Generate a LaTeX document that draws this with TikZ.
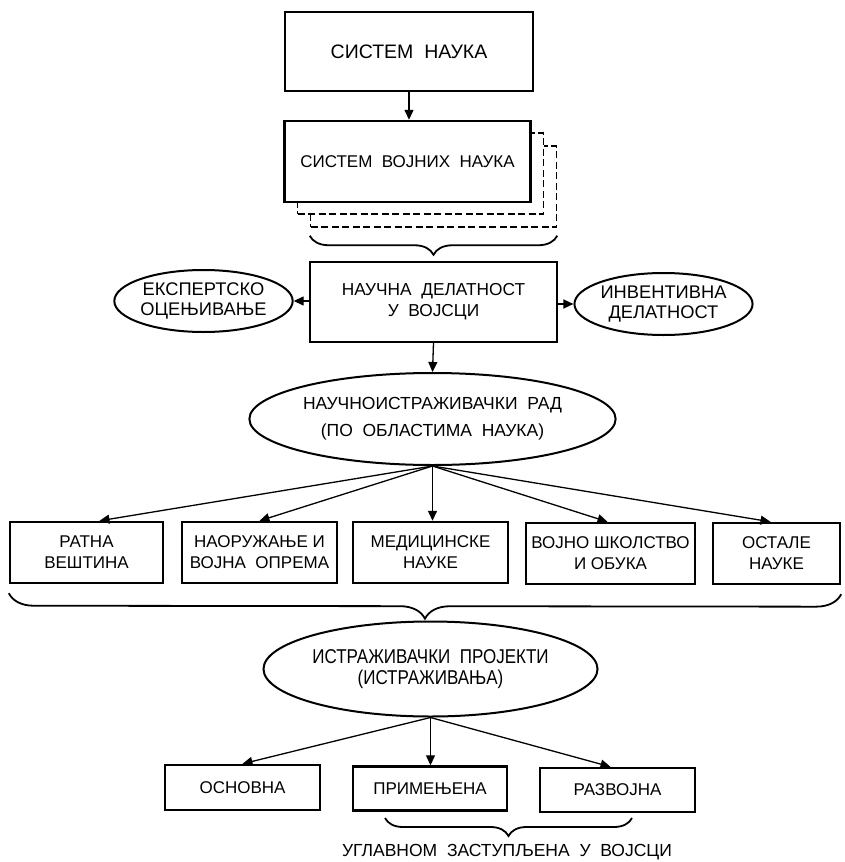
\documentclass[tikz,border=0pt]{standalone}
\usepackage{fontspec}
\setmainfont{Liberation Sans}
\newfontfamily\narrowfont[FakeStretch=0.85]{Liberation Sans}
\usetikzlibrary{arrows.meta,shapes.geometric,decorations.pathreplacing}
\tikzset{
  boxnode/.style={draw, line width=2.4pt, fill=white, inner sep=0pt, align=center,
    font=\fontsize{17}{21}\selectfont},
  ellnode/.style={draw, ellipse, line width=2pt, fill=white, inner sep=0pt, align=center,
    font=\fontsize{18.3}{20}\selectfont},
  arr/.style={line width=1.3pt, -{Triangle[length=10pt,width=9pt]}},
  dbox/.style={draw, dash pattern=on 7pt off 3.5pt, line width=1.5pt, fill=white, inner sep=0pt},
  bracestyle/.style={decorate, decoration={brace, mirror, amplitude=#1}, line width=1.8pt},
  bracestyle/.default=20,
}
\begin{document}
\begin{tikzpicture}[x=1pt,y=-1pt]
\useasboundingbox (0,0) rectangle (844,862);
\fill[white] (0,0) rectangle (844,862);

% top
\node[boxnode, minimum width=248, minimum height=79, font=\fontsize{19.5}{22}\selectfont] (sn) at (409,51.5) {СИСТЕМ~~НАУКА};
\node[dbox, minimum width=246, minimum height=81] (svnb) at (433.5,186.5) {};
\node[dbox, minimum width=246, minimum height=81] (svnm) at (420.5,173.5) {};
\node[boxnode, minimum width=246, minimum height=81] (svn) at (407.5,161.5) {СИСТЕМ~~ВОЈНИХ~~НАУКА};
\draw[arr] (sn.south) -- (sn.south |- svn.north);
\draw[bracestyle=19] ([yshift=-8pt]svnb.south west) -- ([yshift=-8pt]svnb.south east);

% middle
\node[boxnode, minimum width=247, minimum height=80, font=\fontsize{17.3}{21}\selectfont] (nd) at (433.5,302) {НАУЧНА~~ДЕЛАТНОСТ\\У~~ВОЈСЦИ};
\node[ellnode, minimum width=157, minimum height=62] (ek) at (203.5,301) {ЕКСПЕРТСКО\\ОЦЕЊИВАЊЕ};
\node[ellnode, minimum width=157, minimum height=62] (id) at (663.5,304) {ИНВЕНТИВНА\\ДЕЛАТНОСТ};
\draw[arr] (nd.west |- ek.east) -- (ek.east);
\draw[arr] (nd.east |- id.west) -- (id.west);

\node[ellnode, minimum width=321, minimum height=92, font=\fontsize{17.5}{27}\selectfont] (nir) at (432.5,419) {НАУЧНОИСТРАЖИВАЧКИ~~РАД\\(ПО~~ОБЛАСТИМА~~НАУКА)};
\draw[arr] (nd.south) -- (nir.north);

% five boxes
\node[boxnode, minimum width=153, minimum height=61] (rv) at (86.5,552.5) {РАТНА\\ВЕШТИНА};
\node[boxnode, minimum width=155, minimum height=61] (nvo) at (259.5,552.5) {НАОРУЖАЊЕ~И\\ВОЈНА~~ОПРЕМА};
\node[boxnode, minimum width=155, minimum height=61] (mn) at (430.5,552.5) {МЕДИЦИНСКЕ\\НАУКЕ};
\node[boxnode, minimum width=169, minimum height=61] (vso) at (610.5,553.5) {ВОЈНО ШКОЛСТВО\\И ОБУКА};
\node[boxnode, minimum width=127, minimum height=61] (on) at (776.5,553.5) {ОСТАЛЕ\\НАУКЕ};

\draw[arr] (nir.south) -- ([xshift=13pt]rv.north);
\draw[arr] (nir.south) -- (nvo.north);
\draw[arr] (nir.south) -- (nir.south |- mn.north);
\draw[arr] (nir.south) -- ([xshift=-3pt]vso.north);
\draw[arr] (nir.south) -- ([xshift=-6pt]on.north);

\draw[bracestyle=25] ([yshift=-9pt]rv.south west) -- ([yshift=-9pt]on.south east);

% projects
\node[ellnode, minimum width=325, minimum height=95, font=\narrowfont\fontsize{20}{21}\selectfont] (ip) at (430.5,669) {ИСТРАЖИВАЧКИ~~ПРОЈЕКТИ\\(ИСТРАЖИВАЊА)};

\node[boxnode, minimum width=155, minimum height=45] (os) at (242.5,787.5) {ОСНОВНА};
\node[boxnode, minimum width=154, minimum height=44] (pr) at (430,788.5) {ПРИМЕЊЕНА};
\node[boxnode, minimum width=155, minimum height=44] (rz) at (617.5,790) {РАЗВОЈНА};

\draw[arr] (ip.south) -- (os.north);
\draw[arr] (ip.south) -- (ip.south |- pr.north);
\draw[arr] (ip.south) -- ([xshift=-7pt]rz.north);

\coordinate (b2l) at (385,818);
\coordinate (b2r) at (632,818);
\draw[bracestyle=18] (b2l) -- (b2r);
\node[font=\fontsize{17.5}{20}\selectfont, inner sep=0pt] (ug) at (507,852) {УГЛАВНОМ~~ЗАСТУПЉЕНА~~У~~ВОЈСЦИ};
\end{tikzpicture}
\end{document}
